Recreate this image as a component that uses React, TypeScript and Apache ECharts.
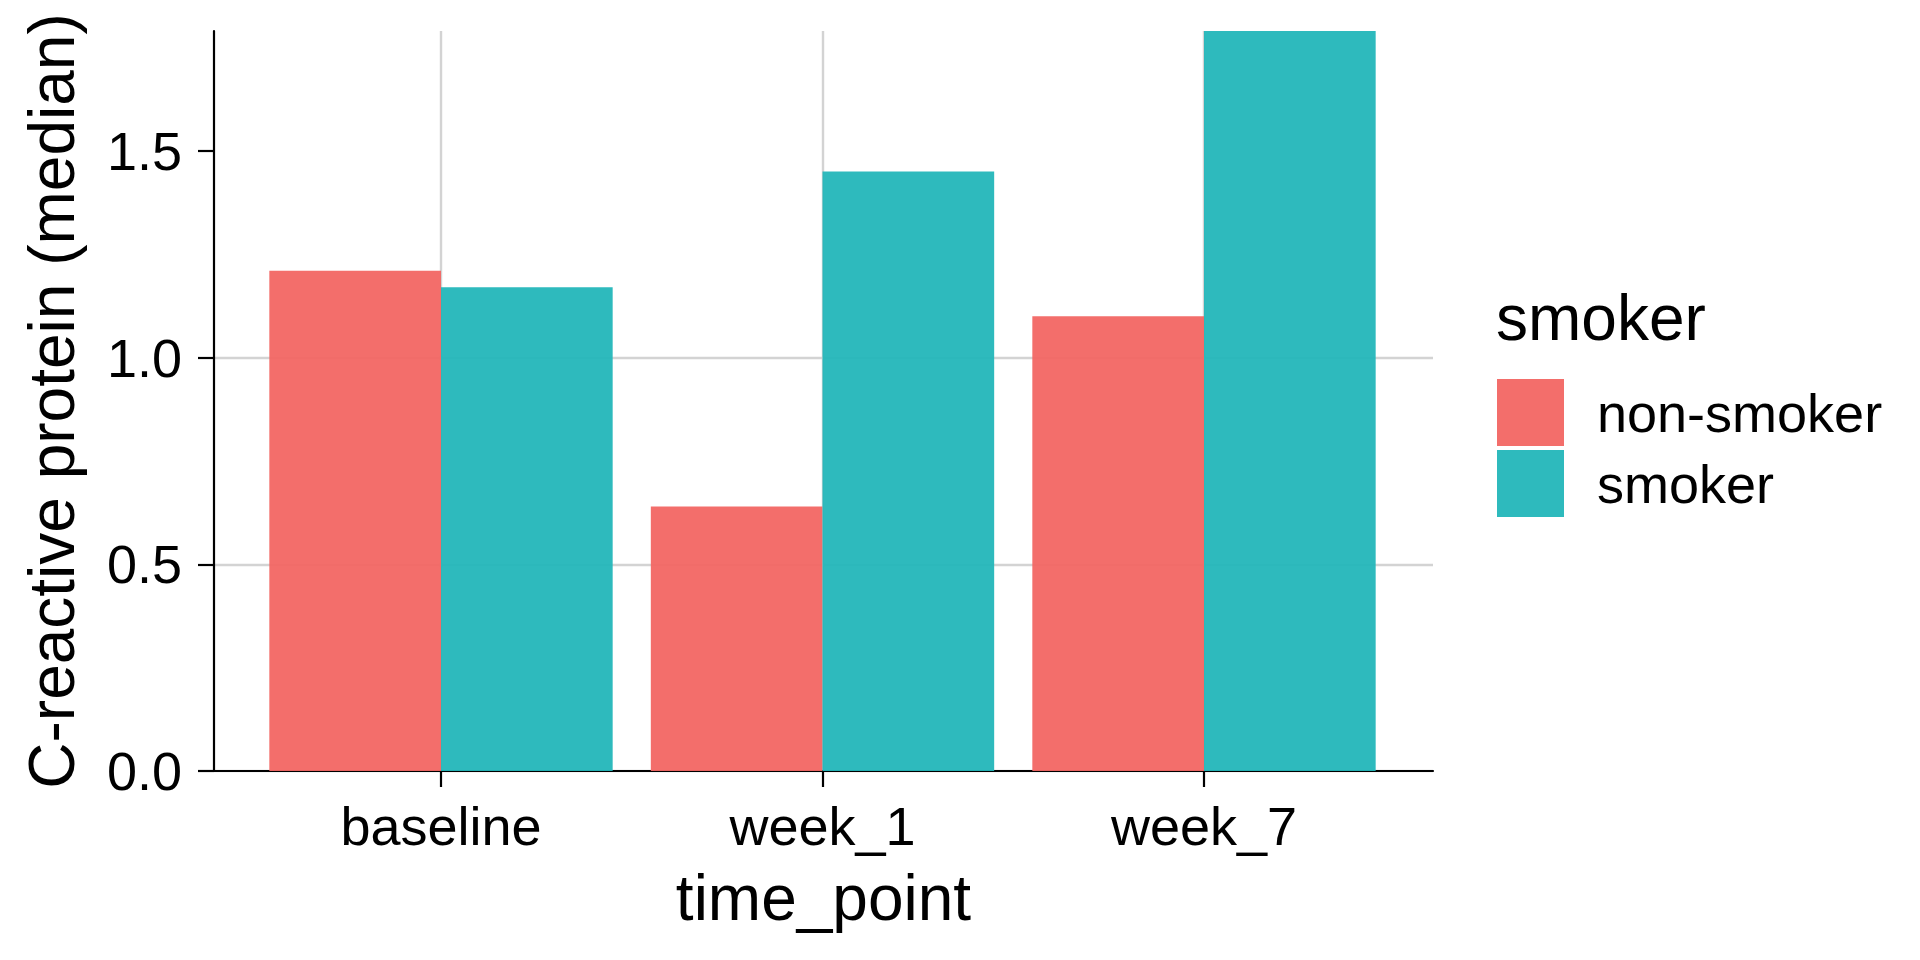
import React, { useEffect, useRef } from 'react';
import * as echarts from 'echarts';

const categories = ['baseline', 'week_1', 'week_7'];
const seriesNames = ['non-smoker', 'smoker'];
const nonSmokerValues = [1.21, 0.64, 1.10];
const smokerValues = [1.17, 1.45, 1.79];
const yTicks = [0, 0.5, 1.0, 1.5];
const yMax = 1.79;
const xTitle = 'time_point';
const yTitle = 'C-reactive protein (median)';
const legendTitle = 'smoker';
const seriesColors = ['#F26663', '#23B6B9'];

const FONT = '"Liberation Sans", Arial, Helvetica, sans-serif';

export default function App() {
  const ref = useRef<HTMLDivElement>(null);
  useEffect(() => {
    if (!ref.current) return;
    const chart = echarts.init(ref.current, undefined, { renderer: 'svg' });
    const axisLine = { color: '#000', width: 2.2 };
    const gridLine = { color: '#d3d3d3', width: 2.4 };
    const valuesBySeries = [nonSmokerValues, smokerValues];
    chart.setOption({
      animation: false,
      backgroundColor: '#fff',
      textStyle: { fontFamily: FONT },
      grid: [
        { left: 214, right: 487, top: 31, bottom: 189 },
        { left: 441, right: 716, top: 31, bottom: 189 },
      ],
      xAxis: [
        {
          gridIndex: 0,
          type: 'value',
          min: 0,
          max: 1,
          axisLine: { show: true, onZero: false, lineStyle: axisLine },
          axisTick: { show: false },
          axisLabel: { show: false },
          splitLine: { show: false },
          name: xTitle,
          nameLocation: 'middle',
          nameGap: 95,
          nameTextStyle: { fontSize: 64, color: '#000', fontFamily: FONT },
        },
        {
          gridIndex: 1,
          type: 'category',
          data: categories,
          boundaryGap: false,
          axisLine: { show: false },
          axisTick: { show: true, length: 16, lineStyle: axisLine },
          axisLabel: { fontSize: 54, color: '#000', margin: 28, fontFamily: FONT },
          splitLine: { show: true, lineStyle: gridLine },
        },
      ],
      yAxis: [
        {
          gridIndex: 0,
          type: 'value',
          min: 0,
          max: yMax,
          axisLine: { show: true, lineStyle: axisLine },
          axisTick: { show: true, length: 16, lineStyle: axisLine, customValues: yTicks },
          axisLabel: {
            customValues: yTicks,
            formatter: (v: number) => v.toFixed(1),
            fontSize: 54,
            color: '#000',
            margin: 32,
            fontFamily: FONT,
          },
          splitLine: { show: true, showMaxLine: false, lineStyle: gridLine },
          name: yTitle,
          nameLocation: 'middle',
          nameGap: 130,
          nameTextStyle: { fontSize: 64, color: '#000', fontFamily: FONT },
        },
        { gridIndex: 1, type: 'value', min: 0, max: yMax, show: false },
      ],
      legend: {
        orient: 'vertical',
        left: 1492,
        top: 374,
        itemWidth: 67,
        itemHeight: 67,
        itemGap: 4,
        icon: 'rect',
        data: seriesNames,
        textStyle: { fontSize: 54, color: '#000', fontFamily: FONT, padding: [0, 0, 0, 28] },
      },
      graphic: [
        {
          type: 'text',
          x: 1496,
          y: 318,
          style: {
            text: legendTitle,
            fontSize: 64,
            fontFamily: FONT,
            fill: '#000',
            verticalAlign: 'middle',
          },
        },
      ],
      series: seriesNames.map((name, i) => ({
        name,
        type: 'bar',
        xAxisIndex: 1,
        yAxisIndex: 1,
        data: valuesBySeries[i],
        barCategoryGap: '10%',
        barGap: '0%',
        clip: false,
        itemStyle: { color: seriesColors[i], opacity: 0.95 },
      })),
    });
    return () => chart.dispose();
  }, []);
  return (
    <div
      ref={ref}
      style={{ position: 'absolute', left: 0, top: 0, width: 1920, height: 960 }}
    />
  );
}
